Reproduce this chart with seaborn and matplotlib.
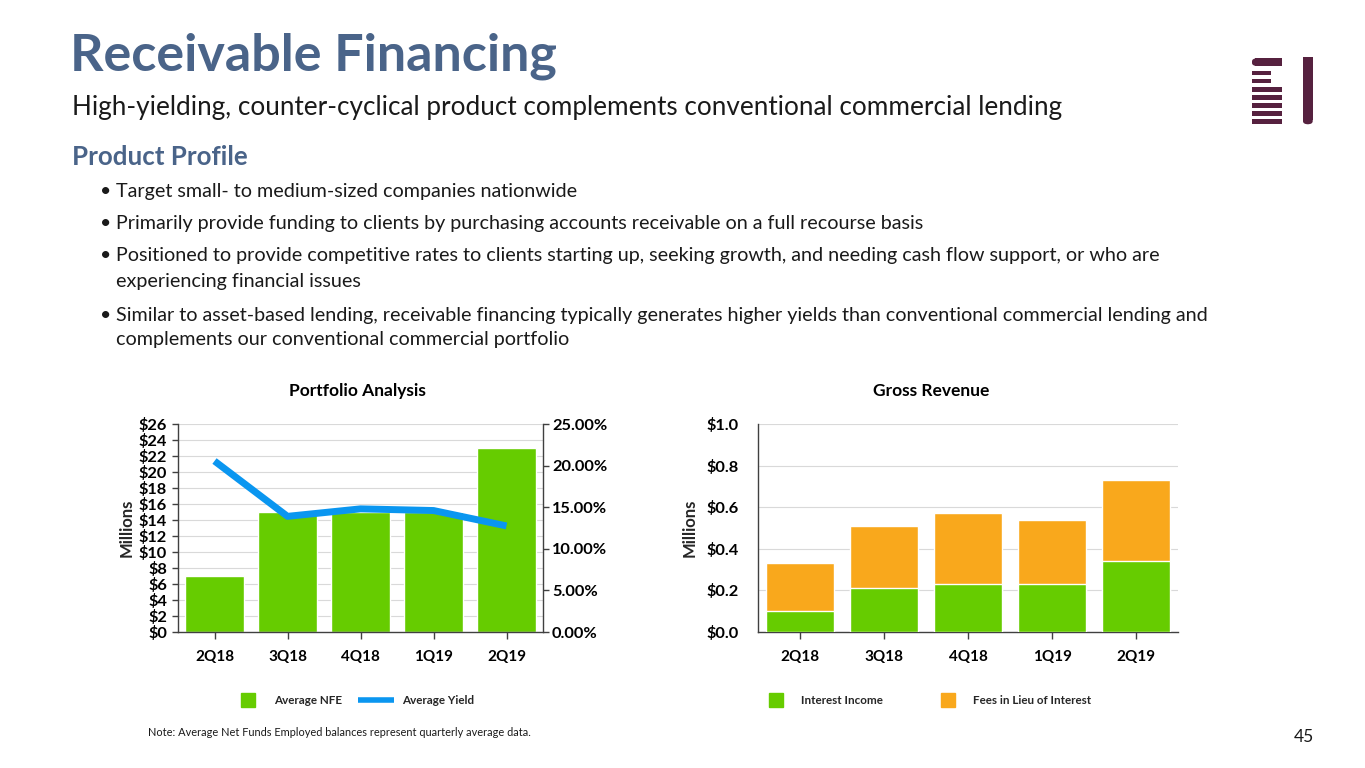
import matplotlib
matplotlib.use("Agg")
import matplotlib.pyplot as plt
import seaborn as sns
import numpy as np
import pandas as pd
from matplotlib.lines import Line2D
from matplotlib.patches import Rectangle, FancyBboxPatch

# ---------------- data ----------------
quarters = ["2Q18", "3Q18", "4Q18", "1Q19", "2Q19"]
avg_nfe = [7.0, 15.0, 15.0, 15.0, 23.0]            # $ millions
avg_yield = [20.55, 13.9, 14.8, 14.6, 12.75]       # percent
interest_income = [0.10, 0.21, 0.23, 0.23, 0.34]   # $ millions
fees_in_lieu = [0.23, 0.30, 0.34, 0.31, 0.39]      # $ millions

left_ticks = list(range(0, 27, 2))
left_tick_labels = [f"${v}" for v in left_ticks]
pct_ticks = [0, 5, 10, 15, 20, 25]
pct_tick_labels = [f"{v:.2f}%" for v in pct_ticks]
rev_ticks = [0.0, 0.2, 0.4, 0.6, 0.8, 1.0]
rev_tick_labels = [f"${v:.1f}" for v in rev_ticks]

bullets = [
    ("Target small- to medium-sized companies nationwide", 191, True),
    ("Primarily provide funding to clients by purchasing accounts receivable on a full recourse basis", 223, True),
    ("Positioned to provide competitive rates to clients starting up, seeking growth, and needing cash flow support, or who are", 256, True),
    ("experiencing financial issues", 281, False),
    ("Similar to asset-based lending, receivable financing typically generates higher yields than conventional commercial lending and", 315, True),
    ("complements our conventional commercial portfolio", 340, False),
]

GREEN = "#66CC00"
ORANGE = "#F9A81C"
BLUE = "#0A96F0"
TITLE_BLUE = "#4A6489"
PURPLE = "#56213F"
GRID = "#D9D9D9"
SPINE = "#404040"

sns.set_theme(style="white")
plt.rcParams["font.family"] = ["Lato", "DejaVu Sans"]

W, H = 1365, 768
fig = plt.figure(figsize=(W / 100, H / 100), dpi=100)
fig.patch.set_facecolor("white")


def fx(x):
    return x / W


def fy(y):
    return 1 - y / H


# ---------------- header texts ----------------
fig.text(fx(70), fy(56), "Receivable Financing", fontsize=37.5, fontweight="bold",
         color=TITLE_BLUE, va="center", ha="left")
fig.text(fx(72), fy(107), "High-yielding, counter-cyclical product complements conventional commercial lending",
         fontsize=18.8, color="#1A1A1A", va="center", ha="left")
fig.text(fx(72), fy(157), "Product Profile", fontsize=18.6, fontweight="bold",
         color=TITLE_BLUE, va="center", ha="left")
for txt, y, has_bullet in bullets:
    if has_bullet:
        fig.text(fx(100), fy(y), "\u2022", fontsize=14, color="#1A1A1A", va="center", ha="left")
    fig.text(fx(116), fy(y), txt, fontsize=14.2, color="#1A1A1A", va="center", ha="left")

# ---------------- logo ----------------
def rect(x0, y0, x1, y1):
    fig.patches.append(Rectangle((fx(x0), fy(y1)), fx(x1 - x0), (y1 - y0) / H,
                                 transform=fig.transFigure, color=PURPLE, lw=0))

rect(1255, 58.3, 1282.3, 66)
fig.patches.append(FancyBboxPatch((fx(1252), fy(66)), fx(8), 7.7 / H,
                                  boxstyle="round,pad=0,rounding_size=0.004",
                                  transform=fig.transFigure, color=PURPLE, lw=0))
rect(1252, 71, 1270.7, 75.3)
rect(1252, 78.7, 1270.7, 83.3)
for yy in [87, 95, 103, 111, 119]:
    rect(1252, yy, 1282.3, yy + 4.7)
rect(1303, 57.3, 1312.7, 120)
fig.patches.append(FancyBboxPatch((fx(1303), fy(124.3)), fx(9.7), 8 / H,
                                  boxstyle="round,pad=0,rounding_size=0.004",
                                  transform=fig.transFigure, color=PURPLE, lw=0))

# ---------------- common styling ----------------
XTICK_FS = 11
YTICK_FS = 11.8


def style_axis(ax):
    ax.set_facecolor("white")
    ax.grid(False)
    for s in ["top", "right"]:
        ax.spines[s].set_visible(False)
    for s in ["left", "bottom"]:
        ax.spines[s].set_color(SPINE)
        ax.spines[s].set_linewidth(1.0)
    ax.tick_params(axis="x", which="both", bottom=True, length=5, width=1, color=SPINE,
                   pad=8, labelsize=XTICK_FS)
    ax.tick_params(axis="y", which="both", left=True, length=4, width=1, color=SPINE,
                   pad=4, labelsize=YTICK_FS)
    for lab in ax.get_xticklabels() + ax.get_yticklabels():
        lab.set_fontweight("bold")
        lab.set_color("black")
    ax.set_xlabel("")


# ---------------- left chart: Portfolio Analysis ----------------
axL = fig.add_axes([fx(178), fy(632), fx(543 - 178), 208 / H])
df_nfe = pd.DataFrame({"quarter": quarters, "nfe": avg_nfe})
sns.barplot(data=df_nfe, x="quarter", y="nfe", color=GREEN, saturation=1, width=0.81, ax=axL, zorder=2)
axL.set_xlim(-0.5, len(quarters) - 0.5)
axL.set_ylim(0, 26)
axL.set_yticks(left_ticks)
axL.set_yticklabels(left_tick_labels)
for t in left_ticks[1:]:
    axL.axhline(t, color=GRID, lw=0.8, zorder=0)
axL.set_ylabel("Millions", fontsize=12, fontweight="bold", labelpad=3)
style_axis(axL)

axR = axL.twinx()
sns.lineplot(x=np.arange(len(quarters)), y=avg_yield, color=BLUE, lw=5, ax=axR,
             solid_capstyle="butt", zorder=3)
axR.set_ylim(0, 25)
axR.set_yticks(pct_ticks)
axR.set_yticklabels(pct_tick_labels)
axR.grid(False)
for s in ["top", "left", "bottom"]:
    axR.spines[s].set_visible(False)
axR.spines["right"].set_color(SPINE)
axR.spines["right"].set_linewidth(1.0)
axR.tick_params(axis="y", right=True, length=4, width=1, color=SPINE, pad=2.5, labelsize=YTICK_FS)
for lab in axR.get_yticklabels():
    lab.set_fontweight("bold")
    lab.set_color("black")
axR.set_ylabel("")

fig.text(fx(357), fy(391), "Portfolio Analysis", fontsize=12.5, fontweight="bold",
         ha="center", va="center", color="black")

LEG_FS = 8.4
legL_handles = [
    Line2D([], [], marker="s", linestyle="none", markersize=10, color=GREEN),
    Line2D([], [], color=BLUE, lw=4, solid_capstyle="butt"),
]
legL = fig.legend(legL_handles, ["Average NFE", "Average Yield"], ncol=2, frameon=False,
                  loc="center left", bbox_to_anchor=(fx(230), fy(701)), fontsize=LEG_FS,
                  handlelength=3.1, handletextpad=0.69, columnspacing=1.37,
                  borderaxespad=0, borderpad=0)
for t in legL.get_texts():
    t.set_fontweight("bold")

# ---------------- right chart: Gross Revenue ----------------
axG = fig.add_axes([fx(758), fy(632), fx(1178 - 758), 208 / H])
totals = [a + b for a, b in zip(interest_income, fees_in_lieu)]
df_rev = pd.DataFrame({"quarter": quarters, "total": totals, "interest": interest_income})
sns.barplot(data=df_rev, x="quarter", y="total", color=ORANGE, saturation=1, width=0.8, ax=axG, zorder=2)
sns.barplot(data=df_rev, x="quarter", y="interest", color=GREEN, saturation=1, width=0.8, ax=axG, zorder=3)
axG.set_xlim(-0.5, len(quarters) - 0.5)
axG.set_ylim(0, 1.0)
axG.set_yticks(rev_ticks)
axG.set_yticklabels(rev_tick_labels)
for t in rev_ticks[1:]:
    axG.axhline(t, color=GRID, lw=0.8, zorder=0)
axG.set_ylabel("Millions", fontsize=12, fontweight="bold", labelpad=6)
style_axis(axG)
axG.tick_params(axis="y", length=0, pad=14)

fig.text(fx(931), fy(391), "Gross Revenue", fontsize=12.5, fontweight="bold",
         ha="center", va="center", color="black")

legG_handles = [
    Line2D([], [], marker="s", linestyle="none", markersize=10, color=GREEN),
    Line2D([], [], marker="s", linestyle="none", markersize=10, color=ORANGE),
]
legG = fig.legend(legG_handles, ["Interest Income", "Fees in Lieu of Interest"], ncol=2, frameon=False,
                  loc="center left", bbox_to_anchor=(fx(758), fy(701)), fontsize=LEG_FS,
                  handlelength=3.1, handletextpad=0.62, columnspacing=4.0,
                  borderaxespad=0, borderpad=0)
for t in legG.get_texts():
    t.set_fontweight("bold")

# ---------------- footer ----------------
fig.text(fx(148), fy(733), "Note: Average Net Funds Employed balances represent quarterly average data.",
         fontsize=7.9, color="#1A1A1A", ha="left", va="center")
fig.text(fx(1314), fy(737), "45", fontsize=12.5, color="#1A1A1A", ha="right", va="center")

fig.savefig("out.png", dpi=100, facecolor="white")
